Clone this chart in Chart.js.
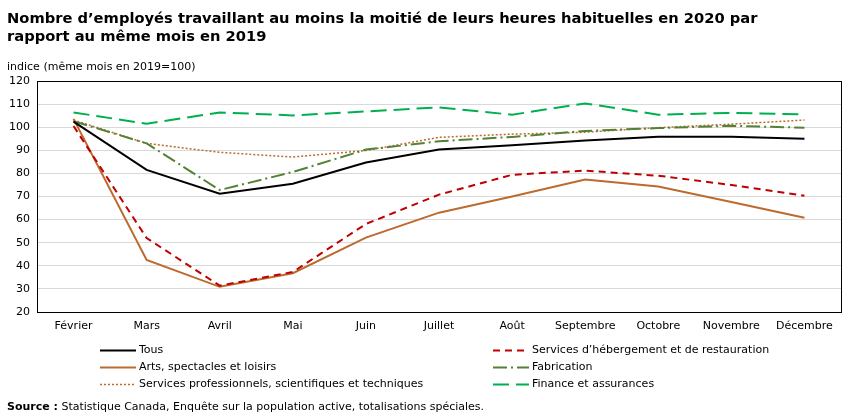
<!DOCTYPE html>
<html>
<head>
<meta charset="utf-8">
<script src="https://cdn.jsdelivr.net/npm/chart.js@4"></script>
<style>
  body { margin: 0; width: 852px; height: 417px; background: #fff; font-family: "DejaVu Sans", Verdana, sans-serif; color: #000; position: relative; overflow: hidden; }
  #title { position: absolute; left: 7px; top: 9px; font-weight: bold; font-size: 14.7px; line-height: 18px; width: 845px; white-space: nowrap; }
  #ytitle { position: absolute; left: 7px; top: 60px; font-size: 11px; }
  #source { position: absolute; left: 7px; top: 400px; font-size: 11px; }
  #wrap { position: absolute; left: 0; top: 0; width: 852px; height: 417px; }
  .leg { position: absolute; font-size: 11px; height: 14px; line-height: 14px; white-space: nowrap; }
  .leg svg { position: absolute; left: 0; top: 6px; }
  .leg span { position: absolute; left: 39px; top: 0; }
</style>
</head>
<body>
<div id="wrap"><canvas id="myChart" width="852" height="417"></canvas></div>
<div id="title">Nombre d’employés travaillant au moins la moitié de leurs heures habituelles en 2020 par<br>rapport au même mois en 2019</div>
<div id="ytitle">indice (même mois en 2019=100)</div>
<div id="legend"></div>
<div id="source"><b>Source :</b> Statistique Canada, Enquête sur la population active, totalisations spéciales.</div>
<script>
const months = ["Février", "Mars", "Avril", "Mai", "Juin", "Juillet", "Août", "Septembre", "Octobre", "Novembre", "Décembre"];

const tous = [102.4, 81.5, 71.2, 75.5, 84.7, 90.3, 92.2, 94.2, 95.9, 95.9, 95.0];
const arts = [103.6, 42.5, 30.9, 36.8, 52.2, 63.0, 70.0, 77.4, 74.3, 67.6, 60.8];
const hebergement = [100.5, 52.0, 31.4, 37.3, 58.1, 70.8, 79.4, 81.2, 79.0, 75.0, 70.3];
const fabrication = [102.6, 93.0, 72.8, 80.6, 90.3, 93.9, 95.8, 98.4, 99.6, 100.6, 99.8];
const servicesPro = [103.1, 93.0, 89.1, 87.1, 89.9, 95.6, 97.0, 97.8, 99.8, 101.3, 103.1];
const finance = [106.4, 101.5, 106.4, 105.1, 106.8, 108.6, 105.4, 110.3, 105.4, 106.2, 105.5];

const series = [
  { label: "Tous", data: tous, color: "#000000", dash: [], col: 0, row: 0 },
  { label: "Services d’hébergement et de restauration", data: hebergement, color: "#C00000", dash: [7, 5], col: 1, row: 0 },
  { label: "Arts, spectacles et loisirs", data: arts, color: "#BC6A2E", dash: [], col: 0, row: 1 },
  { label: "Fabrication", data: fabrication, color: "#548235", dash: [14, 4, 2, 4], col: 1, row: 1 },
  { label: "Services professionnels, scientifiques et techniques", data: servicesPro, color: "#BC6A2E", dash: [2, 2], col: 0, row: 2 },
  { label: "Finance et assurances", data: finance, color: "#00B050", dash: [16, 7], col: 1, row: 2 }
];

// legende en HTML, deux colonnes
const legend = document.getElementById('legend');
series.forEach(function (s) {
  const d = document.createElement('div');
  d.className = 'leg';
  d.style.left = (s.col === 0 ? 100 : 493) + 'px';
  d.style.top = (343 + s.row * 17) + 'px';
  d.innerHTML = '<svg width="36" height="3"><line x1="0" y1="1.5" x2="36" y2="1.5" stroke="' + s.color +
    '" stroke-width="' + (s.dash.length === 2 && s.dash[0] === 2 ? 1.5 : 2) + '" stroke-dasharray="' + s.dash.join(',') + '"/></svg><span>' + s.label + '</span>';
  legend.appendChild(d);
});

const boxBorder = {
  id: 'boxBorder',
  afterDatasetsDraw(chart) {
    const a = chart.chartArea;
    const c = chart.ctx;
    c.save();
    c.strokeStyle = '#000';
    c.lineWidth = 1;
    c.strokeRect(Math.round(a.left) + 0.5, Math.round(a.top) + 0.5, Math.round(a.right - a.left), Math.round(a.bottom - a.top));
    c.restore();
  }
};

const ctx = document.getElementById('myChart').getContext('2d');
const myChart = new Chart(ctx, {
  type: 'line',
  data: {
    labels: months,
    datasets: series.map(function (s) {
      return {
        label: s.label,
        data: s.data,
        borderColor: s.color,
        borderDash: s.dash,
        borderWidth: (s.dash.length === 2 && s.dash[0] === 2) ? 1.5 : 2,
        pointRadius: 0,
        tension: 0,
        fill: false
      };
    })
  },
  options: {
    responsive: false,
    animation: false,
    layout: { padding: { top: 81, bottom: 75, left: 0, right: 11 } },
    plugins: { legend: { display: false }, tooltip: { enabled: false } },
    scales: {
      x: {
        offset: true,
        grid: { display: false, drawTicks: false },
        border: { color: '#000' },
        ticks: { color: '#000', font: { family: 'DejaVu Sans', size: 11 }, maxRotation: 0, autoSkip: false, padding: 8 },
        afterFit(scale) { scale.height = 30; }
      },
      y: {
        min: 20,
        max: 120,
        grid: { color: '#d9d9d9', drawTicks: false },
        border: { color: '#000' },
        ticks: { stepSize: 10, color: '#000', font: { family: 'DejaVu Sans', size: 11 }, padding: 7 },
        afterFit(scale) { scale.width = 37; }
      }
    }
  },
  plugins: [boxBorder]
});
</script>
</body>
</html>
